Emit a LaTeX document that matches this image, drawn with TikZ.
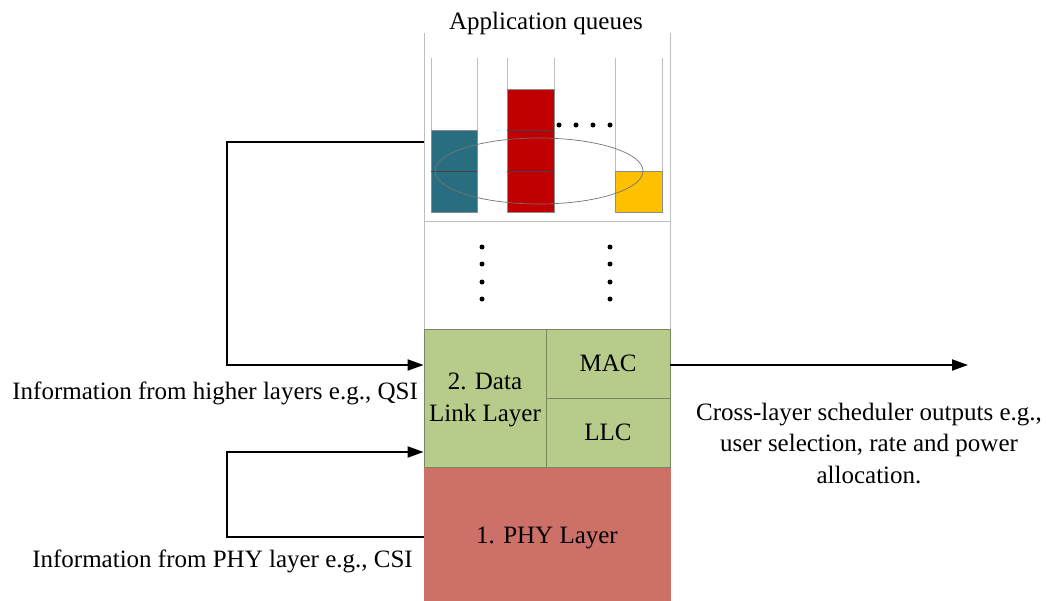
\documentclass[tikz,border=0pt]{standalone}
\usepackage{fontspec}
\setmainfont{Liberation Serif}
\usetikzlibrary{arrows.meta,calc}
\definecolor{tealq}{RGB}{40,110,128}
\definecolor{redq}{RGB}{192,0,0}
\definecolor{yelq}{RGB}{255,192,0}
\definecolor{dllgreen}{RGB}{183,203,139}
\definecolor{phyred}{RGB}{205,112,104}
\definecolor{frame}{RGB}{190,190,190}
\definecolor{cellline}{RGB}{120,135,95}
\tikzset{
  txt/.style={font=\fontsize{25}{31.5}\selectfont, inner sep=0pt, align=center},
  layer/.style={txt, draw=cellline, line width=0.8pt, minimum width=#1},
  qblock/.style={draw=black!45, line width=0.6pt},
  qsplit/.style={draw=black!75, line width=0.7pt},
  tube/.style={draw=frame, line width=1pt},
  feed/.style={draw=black, line width=2pt, -{Triangle[length=16pt,width=11pt]}},
  dotmark/.style={fill=black, circle, inner sep=0pt, minimum size=5pt},
}
\begin{document}
\begin{tikzpicture}[x=1pt,y=-1pt]
\useasboundingbox (0,0) rectangle (1046,600);

% queue area frame
\draw[tube] (424,33) -- (424,221);
\draw[tube] (670,33) -- (670,221);
\node[txt] (title) at (546,23) {Application queues};

% queue tubes
\foreach \x in {431,477,507,554,615,662} \draw[tube] (\x,58) -- (\x,212);

% queued packets
\fill[tealq] (431,130) rectangle (477,212);
\fill[redq] (507,89) rectangle (554,212);
\fill[yelq] (615,171) rectangle (662,212);
\draw[qblock] (431,130) rectangle (477,212);
\draw[qblock] (507,89) rectangle (554,212);
\draw[qblock] (615,171) rectangle (662,212);
\draw[qsplit] (431,171) -- (477,171) (507,130) -- (554,130) (507,171) -- (554,171);
\draw[black!55, line width=0.7pt] (539,171) ellipse [x radius=104, y radius=33];
\foreach \x in {559,576,593,610} \node[dotmark] at (\x,125) {};

% intermediate layers
\draw[tube] (424,221) rectangle (670,329);
\foreach \x in {482,610} \foreach \y in {247,264,282,299} \node[dotmark] at (\x,\y) {};

% protocol layers
\node[layer=246pt, minimum height=133pt, fill=phyred, draw=phyred] (phy) at (547,533.5) {};
\node[txt] (phyt) at (547,538) {1. PHY Layer};
\node[layer=122pt, minimum height=138pt, fill=dllgreen] (dll) at (485,398) {};
\node[txt] (dllt) at (485,400) {2. Data\\Link Layer};
\node[layer=124pt, minimum height=69pt, fill=dllgreen] (mac) at (608,363.5) {MAC};
\node[layer=124pt, minimum height=69pt, fill=dllgreen] (llc) at (608,432.5) {LLC};

% cross-layer information paths
\coordinate (qtap) at (424,142);
\coordinate (phytap) at (424,537);
\draw[feed] (qtap) -- (227,142) -- (227,365) -- (dll.west |- 0,365);
\draw[feed] (phytap) -- (227,537) -- (227,452) -- (dll.west |- 0,452);
\node[txt, anchor=base east] (hl) at (418,399) {Information from higher layers e.g., QSI};
\node[txt, anchor=base east] (pl) at (413,567) {Information from PHY layer e.g., CSI};

% scheduler output
\coordinate (out) at (968,365);
\draw[feed] (mac.east |- 0,365) -- (out);
\node[txt, anchor=base] (sched) at (869,483) {Cross-layer scheduler outputs e.g.,\\user selection, rate and power\\allocation.};
\end{tikzpicture}
\end{document}
